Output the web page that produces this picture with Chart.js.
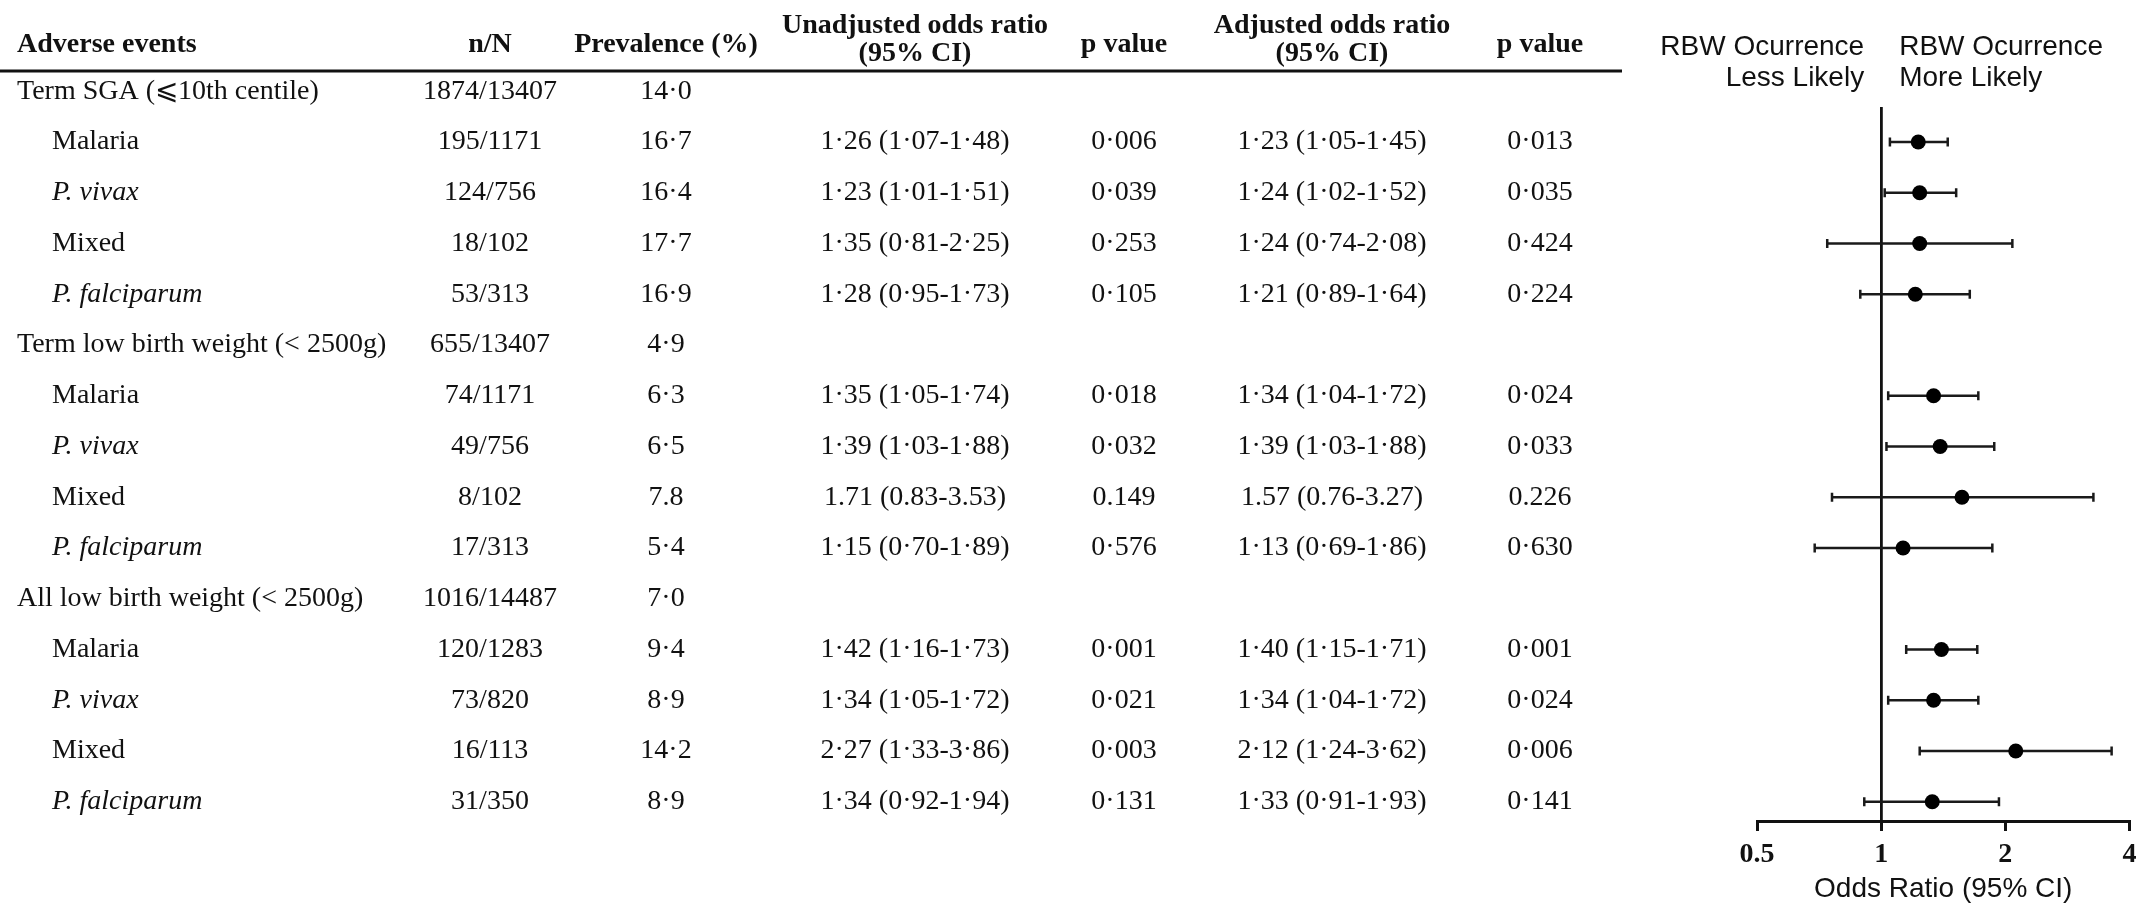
<!DOCTYPE html>
<html>
<head>
<meta charset="utf-8">
<title>Adverse birth outcomes and malaria in pregnancy</title>
<script src="https://cdn.jsdelivr.net/npm/chart.js@4.4.1/dist/chart.umd.min.js"></script>
<style>
  html, body { margin: 0; padding: 0; background: #ffffff; }
  #wrap { width: 2137px; height: 910px; position: relative; }
</style>
</head>
<body>
<div id="wrap"><canvas id="forest" width="2137" height="910"></canvas></div>
<script>
// ---- table and plot data ----
const groupLabels = ['Term SGA (\u2A7D10th centile)', 'Term low birth weight (< 2500g)', 'All low birth weight (< 2500g)'];
const groupCases = ['1874/13407', '655/13407', '1016/14487'];
const groupPrevalence = [14.0, 4.9, 7.0];

const speciesLabels = ['Malaria', 'P. vivax', 'Mixed', 'P. falciparum'];
const speciesItalic = [false, true, false, true];

const subgroupCases = ['195/1171', '124/756', '18/102', '53/313',
                       '74/1171', '49/756', '8/102', '17/313',
                       '120/1283', '73/820', '16/113', '31/350'];
const subgroupPrevalence = [16.7, 16.4, 17.7, 16.9, 6.3, 6.5, 7.8, 5.4, 9.4, 8.9, 14.2, 8.9];
const decimalMark = ['·', '·', '·', '·', '·', '·', '.', '·', '·', '·', '·', '·'];

const unadjustedOR = [1.26, 1.23, 1.35, 1.28, 1.35, 1.39, 1.71, 1.15, 1.42, 1.34, 2.27, 1.34];
const unadjustedLow = [1.07, 1.01, 0.81, 0.95, 1.05, 1.03, 0.83, 0.70, 1.16, 1.05, 1.33, 0.92];
const unadjustedHigh = [1.48, 1.51, 2.25, 1.73, 1.74, 1.88, 3.53, 1.89, 1.73, 1.72, 3.86, 1.94];
const unadjustedP = [0.006, 0.039, 0.253, 0.105, 0.018, 0.032, 0.149, 0.576, 0.001, 0.021, 0.003, 0.131];

const adjustedOR = [1.23, 1.24, 1.24, 1.21, 1.34, 1.39, 1.57, 1.13, 1.40, 1.34, 2.12, 1.33];
const adjustedLow = [1.05, 1.02, 0.74, 0.89, 1.04, 1.03, 0.76, 0.69, 1.15, 1.04, 1.24, 0.91];
const adjustedHigh = [1.45, 1.52, 2.08, 1.64, 1.72, 1.88, 3.27, 1.86, 1.71, 1.72, 3.62, 1.93];
const adjustedP = [0.013, 0.035, 0.424, 0.224, 0.024, 0.033, 0.226, 0.630, 0.001, 0.024, 0.006, 0.141];

const oddsRatioTicks = [0.5, 1, 2, 4];

// ---- helpers ----
const INK = '#111111';
const SERIF = '"Liberation Serif", "Times New Roman", "DejaVu Serif", serif';
const SANS = '"Liberation Sans", Arial, "DejaVu Sans", sans-serif';

// each group occupies a header row followed by four species rows
const rowOf = i => Math.floor(i / 4) * 5 + 1 + (i % 4);
const fmt = (v, digits, mark) => v.toFixed(digits).replace('.', mark);
const ciText = (or, lo, hi, mark) =>
  fmt(or, 2, mark) + ' (' + fmt(lo, 2, mark) + '-' + fmt(hi, 2, mark) + ')';

// ---- datasets: point estimates plus one capped line per confidence interval ----
const pointData = adjustedOR.map((v, i) => ({ x: v, y: rowOf(i) }));

const datasets = [{
  label: 'Adjusted odds ratio',
  data: pointData,
  pointRadius: 7.5,
  pointHoverRadius: 7.5,
  pointBackgroundColor: '#000',
  pointBorderColor: '#000',
  pointBorderWidth: 0,
  showLine: false,
  order: 0
}];

adjustedOR.forEach((v, i) => {
  datasets.push({
    type: 'line',
    label: 'CI ' + i,
    data: [{ x: adjustedLow[i], y: rowOf(i) }, { x: adjustedHigh[i], y: rowOf(i) }],
    borderColor: '#1a1a1a',
    borderWidth: 2.5,
    pointStyle: 'line',
    rotation: 90,
    pointRadius: 4.5,
    pointHoverRadius: 4.5,
    pointBorderWidth: 2.5,
    pointBorderColor: '#1a1a1a',
    fill: false,
    order: 1
  });
});

// ---- table drawn alongside the plot, aligned to the plot's row scale ----
const tablePlugin = {
  id: 'oddsTable',
  afterDraw(chart) {
    const ctx = chart.ctx;
    const yScale = chart.scales.y;
    const xScale = chart.scales.x;
    const col = { label: 17, indent: 52, cases: 490, prev: 666, unadj: 915, p1: 1124, adj: 1332, p2: 1540 };

    ctx.save();
    ctx.fillStyle = INK;
    ctx.textBaseline = 'middle';

    // header
    ctx.font = 'bold 28px ' + SERIF;
    ctx.textAlign = 'left';
    ctx.fillText('Adverse events', col.label, 45);
    ctx.textAlign = 'center';
    ctx.fillText('n/N', col.cases, 45);
    ctx.fillText('Prevalence (%)', col.prev, 45);
    ctx.fillText('Unadjusted odds ratio', col.unadj, 26);
    ctx.fillText('(95% CI)', col.unadj, 54);
    ctx.fillText('p value', col.p1, 45);
    ctx.fillText('Adjusted odds ratio', col.adj, 26);
    ctx.fillText('(95% CI)', col.adj, 54);
    ctx.fillText('p value', col.p2, 45);

    ctx.strokeStyle = INK;
    ctx.lineWidth = 3;
    ctx.beginPath();
    ctx.moveTo(0, 71);
    ctx.lineTo(1622, 71);
    ctx.stroke();

    // body
    const plain = '28px ' + SERIF;
    const italic = 'italic 28px ' + SERIF;
    groupLabels.forEach((g, gi) => {
      const y = yScale.getPixelForValue(gi * 5);
      ctx.font = plain;
      ctx.textAlign = 'left';
      ctx.fillText(g, col.label, y);
      ctx.textAlign = 'center';
      ctx.fillText(groupCases[gi], col.cases, y);
      ctx.fillText(fmt(groupPrevalence[gi], 1, '·'), col.prev, y);
    });

    subgroupCases.forEach((c, i) => {
      const y = yScale.getPixelForValue(rowOf(i));
      const s = i % 4;
      const m = decimalMark[i];
      ctx.font = speciesItalic[s] ? italic : plain;
      ctx.textAlign = 'left';
      ctx.fillText(speciesLabels[s], col.indent, y);
      ctx.font = plain;
      ctx.textAlign = 'center';
      ctx.fillText(c, col.cases, y);
      ctx.fillText(fmt(subgroupPrevalence[i], 1, m), col.prev, y);
      ctx.fillText(ciText(unadjustedOR[i], unadjustedLow[i], unadjustedHigh[i], m), col.unadj, y);
      ctx.fillText(fmt(unadjustedP[i], 3, m), col.p1, y);
      ctx.fillText(ciText(adjustedOR[i], adjustedLow[i], adjustedHigh[i], m), col.adj, y);
      ctx.fillText(fmt(adjustedP[i], 3, m), col.p2, y);
    });

    // direction captions either side of OR = 1
    const x1 = xScale.getPixelForValue(1);
    ctx.font = '28px ' + SANS;
    ctx.textAlign = 'right';
    ctx.fillText('RBW Ocurrence', x1 - 17, 47);
    ctx.fillText('Less Likely', x1 - 17, 78);
    ctx.textAlign = 'left';
    ctx.fillText('RBW Ocurrence', x1 + 18, 47);
    ctx.fillText('More Likely', x1 + 18, 78);
    ctx.restore();
  }
};

new Chart(document.getElementById('forest'), {
  type: 'scatter',
  data: { datasets },
  options: {
    responsive: false,
    animation: false,
    events: [],
    layout: { padding: { left: 1757, right: 5, top: 108, bottom: 0 } },
    plugins: { legend: { display: false }, tooltip: { enabled: false } },
    scales: {
      x: {
        type: 'logarithmic',
        position: 'bottom',
        min: 0.5,
        max: 4,
        afterBuildTicks: s => { s.ticks = oddsRatioTicks.map(v => ({ value: v })); },
        afterFit: s => { s.height = 89; s.paddingLeft = 0; s.paddingRight = 0; },
        ticks: {
          autoSkip: false,
          maxRotation: 0,
          padding: 7,
          color: INK,
          font: { family: SERIF, size: 28, weight: 'bold', lineHeight: 1.2 },
          callback: v => String(v)
        },
        grid: {
          drawOnChartArea: false,
          drawTicks: true,
          tickLength: 10,
          tickWidth: 3,
          tickColor: INK,
          color: INK,
          lineWidth: 3
        },
        border: { display: true, width: 3, color: INK },
        title: {
          display: true,
          text: 'Odds Ratio (95% CI)',
          color: INK,
          font: { family: SANS, size: 28, lineHeight: 1.2 },
          padding: { top: 0, bottom: 4 }
        }
      },
      y: {
        type: 'linear',
        position: { x: 1 },
        reverse: true,
        min: 0.33,
        max: 14.38,
        ticks: { display: false },
        grid: { display: false, drawTicks: false },
        border: { display: true, width: 2.8, color: INK }
      }
    }
  },
  plugins: [tablePlugin]
});
</script>
</body>
</html>
